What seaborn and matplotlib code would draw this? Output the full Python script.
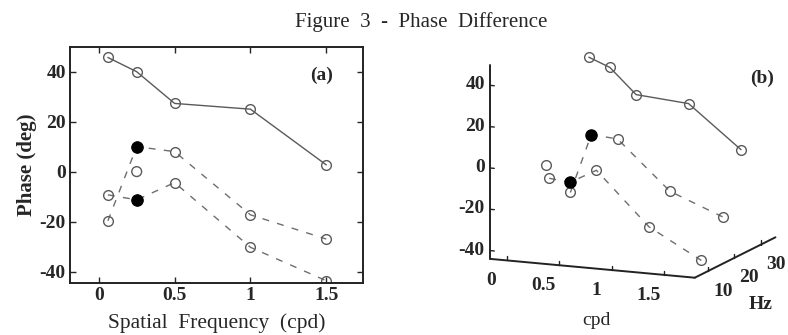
import matplotlib
matplotlib.use("Agg")
import matplotlib.pyplot as plt
import seaborn as sns
from mpl_toolkits.mplot3d import proj3d

# panel (a): phase (deg) against spatial frequency (cpd)
freq_a = [0.06, 0.25, 0.5, 1.0, 1.5]
solid_a = [45.7, 40, 27.3, 25, 2.7]
upper_a = [-19.7, 10, 8, -17.3, -27]
lower_a = [-9.3, -11.3, -4.4, -30.3, -43.7]
filled_a_x = [0.25, 0.25]
filled_a_y = [10, -11.3]
extra_a_x = [0.25]
extra_a_y = [0]

# panel (b): same kind of data spread over temporal frequency (Hz)
freq_b = [0.05, 0.25, 0.5, 1.0, 1.5]
hz_solid, hz_upper, hz_lower = 34, 27, 19
solid_b = [36, 32, 20, 18, -2]
upper_b = [-25, 4, 3, -20, -30]
lower_b = [-13, -14, -7, -32, -46]
extra_b = (0.25, 10, 0)

yticks = [-40, -20, 0, 20, 40]
xticks = [0, 0.5, 1, 1.5]
xticklabels = ["0", "0.5", "1", "1.5"]
hzticks = [10, 20, 30]

sns.set_style("ticks")
plt.rcParams["font.family"] = ["Liberation Serif", "DejaVu Serif"]
plt.rcParams["axes.unicode_minus"] = False

GRAY = "#5a5a5a"
LGRAY = "#6e6e6e"

fig = plt.figure(figsize=(7.88, 3.35), dpi=100)
fig.patch.set_facecolor("white")

# ---------- (a)
ax = fig.add_axes([0.0888, 0.156, 0.3714, 0.7045])
sns.lineplot(x=freq_a, y=solid_a, ax=ax, color=GRAY, lw=1, marker="o", ms=7,
             mfc="none", mec=GRAY, mew=1, estimator=None, sort=False)
for vals in (upper_a, lower_a):
    sns.lineplot(x=freq_a, y=vals, ax=ax, color=LGRAY, lw=1, marker="o", ms=7,
                 mfc="none", mec=GRAY, mew=1, estimator=None, sort=False)
    ax.lines[-1].set_dashes((5, 6))
sns.scatterplot(x=extra_a_x, y=extra_a_y, ax=ax, s=50, facecolor="none",
                edgecolor=GRAY, linewidth=1, zorder=4)
sns.scatterplot(x=filled_a_x, y=filled_a_y, ax=ax, s=70, color="black",
                edgecolor="black", zorder=5)

ax.set_xlim(-0.19, 1.74)
ax.set_ylim(-44.5, 50)
ax.set_xticks(xticks)
ax.set_xticklabels(xticklabels)
ax.set_yticks(yticks)
ax.tick_params(direction="in", length=4, width=1, top=True, right=True,
               labelsize=14, pad=3)
for lab in ax.get_xticklabels() + ax.get_yticklabels():
    lab.set_fontweight("bold")
for sp in ax.spines.values():
    sp.set_linewidth(1.4)
    sp.set_color("#222222")
ax.set_ylabel("Phase (deg)", fontsize=15, fontweight="bold", labelpad=2)
ax.set_xlabel("Spatial  Frequency  (cpd)", fontsize=15.5, labelpad=7)
ax.text(0.86, 0.88, "(a)", transform=ax.transAxes, fontsize=14,
        fontweight="bold", ha="center", va="center")

# ---------- (b)
ax3 = fig.add_axes([0.574, 0.0106, 0.446, 1.049], projection="3d",
                   proj_type="ortho")
ax3.view_init(elev=12.4, azim=-66.8)
ax3.set_box_aspect((1.12, 1.03, 1.0))
x0, x1 = -0.16, 1.79
y0, y1 = 5, 35.5
z0, z1 = -44, 50
ax3.set_xlim(x0, x1)
ax3.set_ylim(y0, y1)
ax3.set_zlim(z0, z1)
ax3.set_axis_off()
ax3.patch.set_alpha(0)
M = ax3.get_proj()


def label3d(x, y, z, s, **kw):
    # place a plain 2D text at the projected spot of a 3D point
    px, py, _ = proj3d.proj_transform(x, y, z, M)
    ax3.text2D(px, py, s, transform=ax3.transData, **kw)


ax3.plot(freq_b, [hz_solid] * 5, solid_b, color=GRAY, lw=1, marker="o",
         ms=7, mfc="none", mec=GRAY, mew=1)
for hz, vals in ((hz_upper, upper_b), (hz_lower, lower_b)):
    ln, = ax3.plot(freq_b, [hz] * 5, vals, color=LGRAY, lw=1, marker="o",
                   ms=7, mfc="none", mec=GRAY, mew=1)
    ln.set_dashes((5, 6))
    ax3.plot([freq_b[1]], [hz], [vals[1]], ls="none", marker="o", ms=8,
             color="black")
ax3.plot([extra_b[0]], [extra_b[1]], [extra_b[2]], ls="none", marker="o",
         ms=7, mfc="none", mec=GRAY, mew=1)

# hand-drawn box edges, matlab style
kw = dict(color="#222222", lw=1.4)
ax3.plot([x0, x0], [y0, y0], [z0, z1], **kw)
ax3.plot([x0, x1], [y0, y0], [z0, z0], **kw)
ax3.plot([x1, x1], [y0, y1], [z0, z0], **kw)
for z in yticks:
    ax3.plot([x0, x0 + 0.04], [y0, y0], [z, z], color="#222222", lw=1)
    label3d(x0 - 0.05, y0, z, str(z), ha="right", va="center",
            fontsize=14, fontweight="bold")
for c, lab in zip(xticks, xticklabels):
    ax3.plot([c, c], [y0, y0], [z0, z0 + 2], color="#222222", lw=1)
    label3d(c, y0 - 6, z0 - 6, lab, ha="center", va="center",
            fontsize=14, fontweight="bold")
for h in hzticks:
    ax3.plot([x1, x1], [h, h], [z0, z0 + 2], color="#222222", lw=1)
    label3d(x1 + 0.14, h, z0 - 9, str(h), ha="center", va="center",
            fontsize=14, fontweight="bold")
label3d(0.85, y0, z0 - 25, "cpd", ha="center", va="center", fontsize=14)
label3d(x1 + 0.12, 25, z0 - 25, "Hz", ha="center", va="center",
        fontsize=14, fontweight="bold")

fig.text(762 / 788, 1 - 78 / 335, "(b)", fontsize=14, fontweight="bold",
         ha="center", va="center")
fig.text(421 / 788, 1 - 22 / 335, "Figure  3  -  Phase  Difference",
         fontsize=15, ha="center", va="center")

fig.savefig("out.png", dpi=100, facecolor="white")
